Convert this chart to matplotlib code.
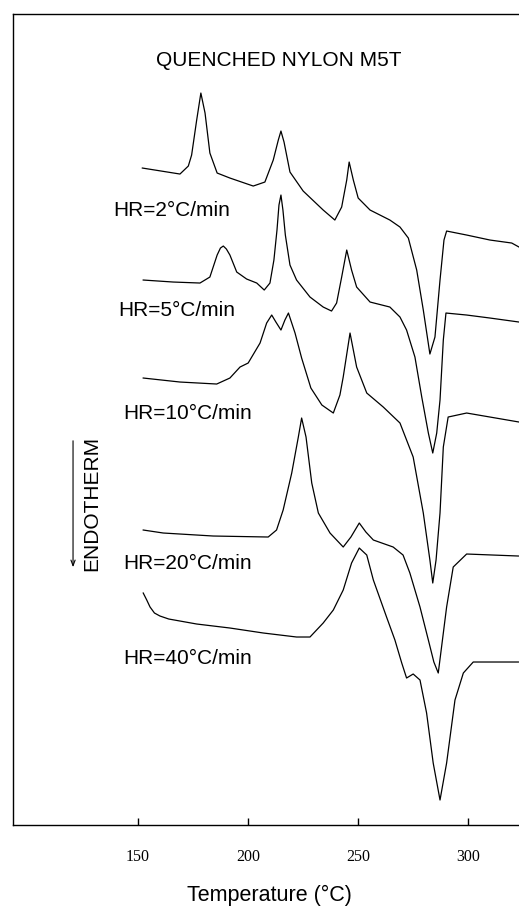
import matplotlib
matplotlib.use('Agg')
import matplotlib.pyplot as plt

plt.rcParams['font.family'] = ['Liberation Sans', 'DejaVu Sans']

# DSC traces: temperature (C) vs heat flow (arb. units, stacked)
t_2 = [152.0, 169.1, 172.9, 174.4, 176.7, 178.6, 180.5, 182.7, 186.0, 191.8,
       202.4, 207.7, 211.5, 213.8, 215.0, 216.4, 219.1, 225.1, 234.2, 239.5,
       242.6, 244.9, 246.0, 247.9, 250.1, 255.5, 264.5, 269.1, 272.9, 276.7,
       279.7, 282.7, 285.0, 287.3, 289.1, 290.3, 299.4, 310.0, 319.9, 323.2]
hf_2 = [657, 651, 659, 670, 705, 732, 712, 672, 652, 647,
        639, 643, 665, 685, 694, 683, 653, 634, 615, 605,
        618, 645, 663, 645, 627, 615, 605, 598, 587, 555,
        515, 471, 488, 545, 585, 594, 590, 585, 582, 578]

t_5 = [152.4, 166.0, 178.2, 182.7, 184.5, 186.0, 187.5, 188.8, 190.2, 191.8,
       194.9, 199.4, 204.0, 207.4, 210.0, 211.8, 213.2, 214.1, 215.0, 215.9,
       217.0, 219.1, 222.1, 228.2, 234.2, 238.0, 240.3, 242.6, 244.9, 247.1,
       249.4, 255.5, 264.5, 269.1, 272.1, 275.9, 279.0, 282.0, 284.0, 285.8,
       287.3, 288.8, 290.0, 299.4, 310.0, 323.2]
hf_5 = [545, 543, 542, 548, 560, 570, 577, 579, 576, 570,
        553, 546, 542, 535, 542, 565, 595, 620, 630, 615,
        590, 560, 545, 528, 518, 514, 522, 548, 575, 555,
        538, 523, 518, 508, 495, 468, 428, 392, 372, 392,
        425, 485, 512, 510, 507, 503]

t_10 = [152.4, 169.1, 185.8, 191.8, 196.4, 200.1, 205.5, 208.5, 210.8, 212.7,
        215.0, 216.8, 218.4, 221.4, 224.4, 228.6, 233.6, 238.8, 241.8, 243.3,
        246.4, 249.4, 254.0, 261.5, 269.1, 275.1, 279.7, 282.7, 284.0, 285.5,
        287.3, 288.8, 291.0, 299.4, 323.2]
hf_10 = [447, 443, 441, 447, 458, 462, 482, 502, 510, 503,
         495, 505, 512, 492, 467, 437, 420, 412, 430, 448,
         492, 458, 432, 418, 402, 368, 312, 265, 242, 265,
         312, 378, 408, 412, 403]

t_20 = [152.4, 161.5, 184.2, 209.2, 213.0, 216.0, 219.9, 222.9, 224.4, 226.4,
        229.0, 232.0, 237.3, 243.3, 246.8, 250.6, 253.6, 257.0, 266.0, 270.5,
        273.6, 278.2, 282.0, 284.5, 286.5, 288.0, 290.3, 293.3, 299.4, 322.9]
hf_20 = [295, 292, 289, 288, 295, 315, 352, 388, 407, 388,
         342, 312, 292, 278, 288, 302, 293, 285, 278, 270,
         252, 218, 185, 163, 152, 178, 218, 258, 271, 269]

t_40 = [152.4, 154.0, 155.5, 157.5, 160.0, 164.0, 176.7, 191.8, 207.0, 222.1,
        228.2, 234.2, 238.8, 243.3, 247.1, 250.6, 254.0, 257.0, 263.0, 266.8,
        269.9, 272.1, 275.1, 278.2, 281.2, 284.2, 287.3, 290.3, 294.1, 297.9,
        302.4, 322.9]
hf_40 = [232, 225, 218, 212, 209, 206, 201, 197, 192, 188,
         188, 202, 215, 235, 262, 277, 270, 245, 208, 185,
         162, 147, 151, 145, 112, 62, 25, 62, 125, 152,
         163, 163]

rate_labels = ['HR=2°C/min', 'HR=5°C/min', 'HR=10°C/min', 'HR=20°C/min', 'HR=40°C/min']
label_t = [138.6, 140.9, 143.2, 143.2, 143.2]
label_hf = [615, 515, 412, 262, 167]

xticks = [150, 200, 250, 300]

fig = plt.figure(figsize=(5.19, 9.06), dpi=100)
ax = fig.add_axes([0.025, 0.0894, 0.975, 0.8951])

for t, hf in [(t_2, hf_2), (t_5, hf_5), (t_10, hf_10), (t_20, hf_20), (t_40, hf_40)]:
    ax.plot(t, hf, color='black', lw=0.9)

for lab, x, y in zip(rate_labels, label_t, label_hf):
    ax.text(x, y, lab, fontsize=15, ha='left', va='center')

ax.text(214.1, 765, 'QUENCHED NYLON M5T', fontsize=15, ha='center', va='center')
ax.text(129.1, 322, 'ENDOTHERM', fontsize=15, rotation=90, ha='center', va='center')
ax.annotate('', xy=(120.5, 255), xytext=(120.5, 387),
            arrowprops=dict(arrowstyle='->,head_length=0.4,head_width=0.15', lw=0.8, color='black'))

ax.set_xlim(93.2, 323.2)
ax.set_ylim(0, 811)
ax.set_xticks(xticks)
ax.set_yticks([])
ax.tick_params(axis='x', direction='in', length=5, width=1, pad=17,
               labelsize=11.5, labelfontfamily='Liberation Serif')
ax.spines['right'].set_visible(False)
for s in ['top', 'left', 'bottom']:
    ax.spines[s].set_linewidth(1.0)

fig.text(0.52, 0.012, 'Temperature (°C)', fontsize=15.5, ha='center', va='center')

fig.savefig('out.png', dpi=100)
